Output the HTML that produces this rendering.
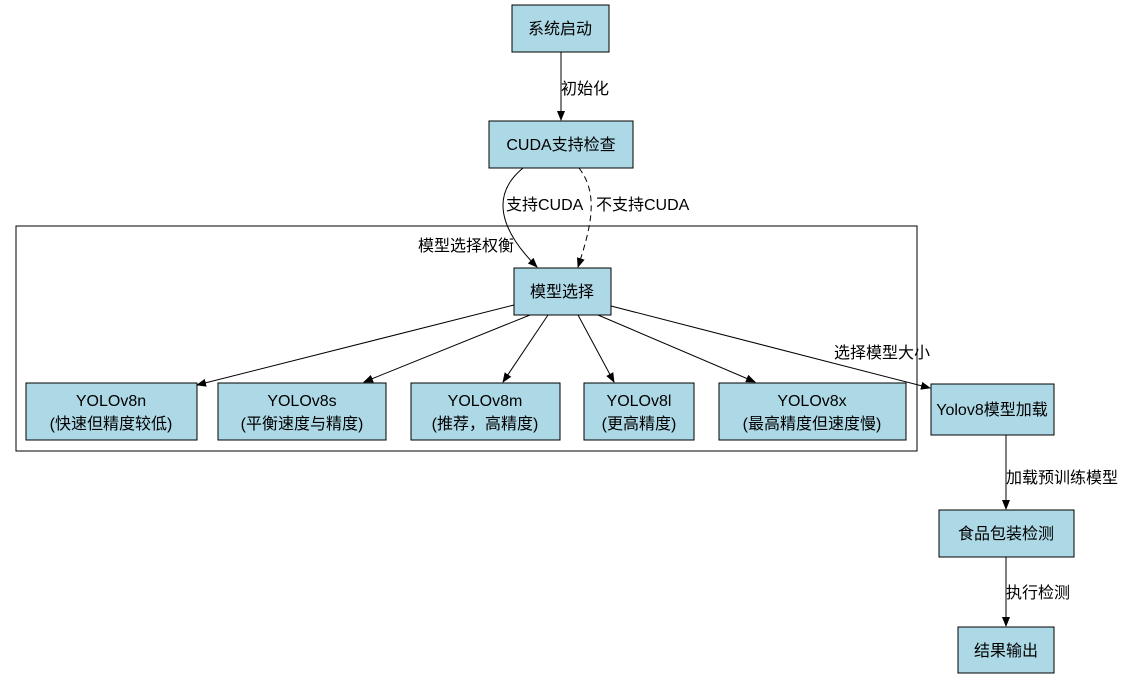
<!DOCTYPE html>
<html><head><meta charset="utf-8"><style>
html,body{margin:0;padding:0;background:#fff;}
svg{display:block;font-family:"Liberation Sans","Noto Sans CJK SC",sans-serif;}
</style></head><body>
<svg width="1145" height="678" viewBox="0 0 1145 678" xmlns="http://www.w3.org/2000/svg">
<defs><marker id="a" markerWidth="10" markerHeight="8" refX="9" refY="4" orient="auto" markerUnits="userSpaceOnUse"><path d="M0,0 L10,4 L0,8 z" fill="#000"/></marker></defs>
<rect x="16" y="226" width="901" height="225" fill="none" stroke="#000"/>
<text x="466" y="251" font-size="16" text-anchor="middle">模型选择权衡</text>
<g fill="#add8e6" stroke="#000">
<rect x="512" y="5" width="97" height="47"/>
<rect x="489" y="121" width="144" height="47"/>
<rect x="514" y="268" width="97" height="47"/>
<rect x="26" y="383" width="171" height="57"/>
<rect x="218" y="383" width="168" height="57"/>
<rect x="411" y="383" width="149" height="57"/>
<rect x="584" y="383" width="110" height="57"/>
<rect x="719" y="383" width="187" height="57"/>
<rect x="931" y="384" width="123" height="51"/>
<rect x="939" y="510" width="135" height="47"/>
<rect x="958" y="627" width="96" height="46"/>
</g>
<g font-size="16" text-anchor="middle" fill="#000">
<text x="560" y="34">系统启动</text>
<text x="561" y="150">CUDA支持检查</text>
<text x="562" y="297">模型选择</text>
<text x="111" y="406">YOLOv8n</text><text x="111" y="429">(快速但精度较低)</text>
<text x="302" y="406">YOLOv8s</text><text x="302" y="429">(平衡速度与精度)</text>
<text x="485" y="406">YOLOv8m</text><text x="485" y="429">(推荐，高精度)</text>
<text x="639" y="406">YOLOv8l</text><text x="639" y="429">(更高精度)</text>
<text x="812" y="406">YOLOv8x</text><text x="812" y="429">(最高精度但速度慢)</text>
<text x="992" y="415">Yolov8模型加载</text>
<text x="1006" y="539">食品包装检测</text>
<text x="1006" y="656">结果输出</text>
</g>
<g stroke="#000" fill="none" marker-end="url(#a)">
<line x1="561" y1="52" x2="561" y2="120"/>
<path d="M523,168 C490,195 500,230 537,267"/>
<path d="M579,168 C600,195 590,230 578,267" stroke-dasharray="6,4"/>
<line x1="514" y1="305" x2="197" y2="385"/>
<line x1="530" y1="315" x2="364" y2="382"/>
<line x1="548" y1="315" x2="503" y2="382"/>
<line x1="578" y1="315" x2="614" y2="382"/>
<line x1="598" y1="315" x2="755" y2="382"/>
<line x1="611" y1="306" x2="930" y2="388"/>
<line x1="1006" y1="435" x2="1006" y2="509"/>
<line x1="1006" y1="557" x2="1006" y2="626"/>
</g>
<g font-size="16" fill="#000">
<text x="561" y="94">初始化</text>
<text x="506" y="210">支持CUDA</text>
<text x="596" y="210">不支持CUDA</text>
<text x="834" y="358">选择模型大小</text>
<text x="1006" y="483">加载预训练模型</text>
<text x="1006" y="598">执行检测</text>
</g>
</svg>
</body></html>
